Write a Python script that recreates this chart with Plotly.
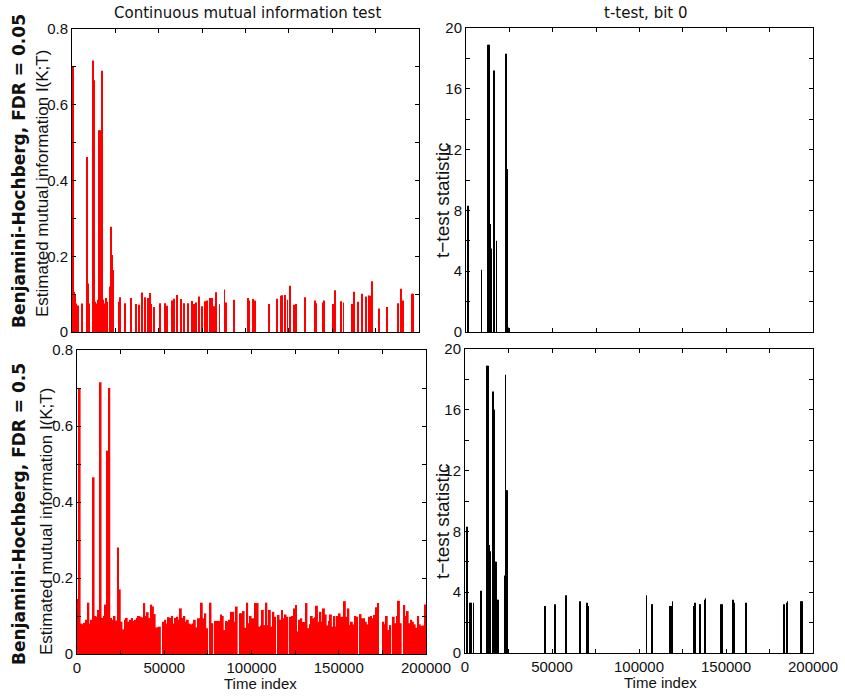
import plotly.graph_objects as go

# estimated MI, FDR = 0.5 (one value per 1000-sample block, 0..200000)
mi_all = [
    0.145, 0.70, 0.08, 0.078, 0.082, 0.09, 0.135, 0.08, 0.09, 0.465,
    0.10, 0.098, 0.116, 0.715, 0.095, 0.10, 0.13, 0.535, 0.70, 0.095,
    0.09, 0.10, 0.088, 0.28, 0.17, 0.085, 0.065, 0.09, 0.095, 0.085,
    0.09, 0.095, 0.087, 0.09, 0.095, 0.10, 0.098, 0.096, 0.134, 0.10,
    0.11, 0.095, 0.13, 0.125, 0.105, 0.07, 0.07, 0.072, 0.0, 0.085,
    0.09, 0.08, 0.097, 0.095, 0.10, 0.08, 0.095, 0.098, 0.09, 0.12,
    0.095, 0.10, 0.085, 0.09, 0.08, 0.078, 0.08, 0.09, 0.07, 0.094,
    0.094, 0.135, 0.094, 0.107, 0.068, 0.0, 0.135, 0.081, 0.0, 0.087,
    0.087, 0.087, 0.104, 0.10, 0.063, 0.087, 0.085, 0.09, 0.111, 0.111,
    0.085, 0.125, 0.0, 0.107, 0.107, 0.113, 0.069, 0.135, 0.081, 0.10,
    0.094, 0.094, 0.134, 0.134, 0.072, 0.075, 0.116, 0.076, 0.135, 0.076,
    0.116, 0.072, 0.111, 0.098, 0.0, 0.103, 0.09, 0.116, 0.094, 0.104,
    0.098, 0.0, 0.098, 0.10, 0.12, 0.129, 0.059, 0.09, 0.094, 0.084,
    0.084, 0.134, 0.068, 0.078, 0.10, 0.094, 0.097, 0.127, 0.085, 0.111,
    0.085, 0.12, 0.104, 0.075, 0.087, 0.104, 0.072, 0.10, 0.072, 0.10,
    0.107, 0.098, 0.098, 0.139, 0.098, 0.12, 0.076, 0.085, 0.078, 0.10,
    0.098, 0.0, 0.105, 0.094, 0.094, 0.085, 0.078, 0.098, 0.10, 0.094,
    0.103, 0.123, 0.134, 0.0, 0.0, 0.085, 0.078, 0.10, 0.063, 0.076,
    0.0, 0.098, 0.081, 0.10, 0.14, 0.081, 0.0, 0.129, 0.10, 0.113,
    0.081, 0.09, 0.085, 0.078, 0.069, 0.10, 0.078, 0.074, 0.075, 0.13,
]

# estimated MI, FDR = 0.05 (sparse)
mi_strict_t = [
    300, 600, 1000, 1500, 2200, 3600, 5600, 8400, 9000, 9800,
    12100, 12700, 13300, 14000, 14800, 15300, 15700, 16100, 17100, 17900,
    18600, 19600, 20300, 22100, 22600, 23000, 23400, 27200, 27800, 30700,
    34200, 36800, 38400, 40300, 42200, 43600, 44700, 45300, 47000, 50900,
    53700, 54700, 57800, 58900, 60500, 62800, 64500, 66800, 69100, 70100,
    71600, 73300, 74900, 76600, 77700, 79300, 80600, 82000, 82900, 85000,
    87900, 88700, 93100, 101200, 101900, 104200, 105600, 113800, 118400, 120400,
    121300, 122900, 124200, 125400, 127700, 129200, 134400, 139800, 140500, 144900,
    145500, 150700, 151700, 154900, 156500, 161600, 162600, 165100, 167200, 169500,
    170900, 171800, 172800, 177200, 181800, 188100, 189700, 190600, 195800, 196800,
]
mi_strict_v = [
    0.105, 0.70, 0.106, 0.10, 0.075, 0.07, 0.075, 0.462, 0.128, 0.075,
    0.717, 0.665, 0.08, 0.075, 0.085, 0.145, 0.533, 0.533, 0.69, 0.085,
    0.075, 0.09, 0.08, 0.12, 0.278, 0.203, 0.164, 0.08, 0.092, 0.076,
    0.090, 0.074, 0.072, 0.104, 0.092, 0.090, 0.103, 0.074, 0.066, 0.076,
    0.076, 0.069, 0.083, 0.088, 0.098, 0.087, 0.076, 0.076, 0.082, 0.074,
    0.078, 0.094, 0.068, 0.081, 0.083, 0.090, 0.090, 0.068, 0.105, 0.073,
    0.112, 0.078, 0.085, 0.090, 0.083, 0.087, 0.083, 0.074, 0.088, 0.096,
    0.097, 0.098, 0.085, 0.122, 0.072, 0.074, 0.092, 0.083, 0.076, 0.078,
    0.083, 0.074, 0.110, 0.081, 0.078, 0.074, 0.106, 0.080, 0.101, 0.094,
    0.097, 0.096, 0.134, 0.062, 0.066, 0.076, 0.114, 0.083, 0.101, 0.101,
]

# t-test statistic, FDR = 0.05
tt_strict_t = [1000, 9000, 12700, 13100, 13800, 14200, 14600, 16100, 16500, 17600,
               22900, 23200, 23600, 24000, 24500]
tt_strict_v = [8.3, 4.1, 18.9, 18.9, 7.1, 6.7, 5.5, 17.2, 16.0, 6.0,
               5.1, 18.3, 10.7, 10.7, 0.3]

# t-test statistic, FDR = 0.5
tt_all_t = [1000, 2900, 3300, 4900, 9200, 12700, 13100, 13800, 14200, 14600,
            16100, 16500, 16800, 17600, 17900, 18500, 18900, 22900, 23200, 23600,
            24000, 24500, 45800, 46200, 51800, 58200, 66000, 70100, 70600, 104300,
            107400, 107800, 117800, 118200, 119300, 131300, 132000, 134700, 135100, 137800,
            138200, 147300, 147700, 153700, 154100, 154500, 161600, 183300, 185000, 185400,
            192800, 193200, 193600]
tt_all_v = [8.3, 3.3, 3.3, 3.3, 4.1, 18.9, 18.9, 7.1, 6.7, 5.5,
            17.2, 16.0, 16.0, 6.0, 6.0, 3.5, 3.5, 5.1, 18.3, 10.7,
            10.7, 0.3, 3.1, 3.1, 3.2, 3.8, 3.4, 3.3, 3.1, 3.8,
            3.2, 3.2, 3.1, 3.1, 3.4, 3.1, 3.3, 3.2, 3.2, 3.5,
            3.6, 3.2, 3.2, 3.4, 3.5, 3.3, 3.3, 3.2, 3.3, 3.4,
            3.3, 3.4, 3.4]

x_tick_vals = [0, 25000, 50000, 75000, 100000, 125000, 150000, 175000, 200000]
x_tick_text = ["0", "", "50000", "", "100000", "", "150000", "", "200000"]
mi_tick_vals = [0, 0.1, 0.2, 0.3, 0.4, 0.5, 0.6, 0.7, 0.8]
mi_tick_text = ["0", "", "0.2", "", "0.4", "", "0.6", "", "0.8"]
tt_tick_vals = [0, 2, 4, 6, 8, 10, 12, 14, 16, 18, 20]
tt_tick_text = ["0", "", "4", "", "8", "", "12", "", "16", "", "20"]

W, H = 845, 698

def px_x(a, b):
    return [a / W, b / W]

def px_y(top, bottom):
    return [1 - bottom / H, 1 - top / H]

fig = go.Figure()
fig.add_trace(go.Bar(x=mi_strict_t, y=mi_strict_v, width=550, marker=dict(color="#ff0000", line_width=0),
                     xaxis="x", yaxis="y"))
fig.add_trace(go.Bar(x0=500, dx=1000, y=mi_all, width=1100, marker=dict(color="#ff0000", line_width=0),
                     xaxis="x3", yaxis="y3"))
fig.add_trace(go.Bar(x=tt_strict_t, y=tt_strict_v, width=420, marker=dict(color="#000000", line_width=0),
                     xaxis="x2", yaxis="y2"))
fig.add_trace(go.Bar(x=tt_all_t, y=tt_all_v, width=420, marker=dict(color="#000000", line_width=0),
                     xaxis="x4", yaxis="y4"))

tick_font = dict(family="Liberation Sans, Arial, sans-serif", size=15, color="#111111")
base = dict(showline=True, linecolor="black", linewidth=1, mirror="allticks", ticks="inside",
            ticklen=4, tickcolor="black", showgrid=False, zeroline=False, tickfont=tick_font,
            automargin=False, fixedrange=True)

def xax(dom, labels):
    return dict(base, domain=dom, range=[0, 200000], tickmode="array", tickvals=x_tick_vals,
                ticktext=x_tick_text if labels else [""] * len(x_tick_vals))

def yax(dom, anchor, right):
    if right:
        return dict(base, domain=dom, anchor=anchor, range=[0, 20], tickmode="array",
                    tickvals=tt_tick_vals, ticktext=tt_tick_text)
    return dict(base, domain=dom, anchor=anchor, range=[0, 0.8], tickmode="array",
                tickvals=mi_tick_vals, ticktext=mi_tick_text)

fig.update_layout(
    width=W, height=H, margin=dict(l=0, r=0, t=0, b=0),
    paper_bgcolor="white", plot_bgcolor="white", showlegend=False,
    xaxis=dict(xax(px_x(72, 419), False), anchor="y"),
    yaxis=yax(px_y(29, 332), "x", False),
    xaxis2=dict(xax(px_x(466, 813), False), anchor="y2"),
    yaxis2=yax(px_y(28, 332), "x2", True),
    xaxis3=dict(xax(px_x(77, 426), True), anchor="y3"),
    yaxis3=yax(px_y(350, 654), "x3", False),
    xaxis4=dict(xax(px_x(465, 813), True), anchor="y4"),
    yaxis4=yax(px_y(349, 653), "x4", True),
)

def note(text, x, y, size, family, angle=0):
    fig.add_annotation(text=text, x=x / W, y=1 - y / H, xref="paper", yref="paper",
                       xanchor="center", yanchor="middle", showarrow=False, textangle=angle,
                       font=dict(family=family, size=size, color="#111111"))

sans = "Liberation Sans, Arial, sans-serif"
note("Continuous mutual information test", 247, 13, 15, "DejaVu Sans")
note("t-test, bit 0", 646, 13, 15, "DejaVu Sans")
note("<b>Benjamini-Hochberg, FDR = 0.05</b>", 19, 171, 17, "DejaVu Sans", -90)
note("<b>Benjamini-Hochberg, FDR = 0.5</b>", 19, 514, 17, "DejaVu Sans", -90)
note("Estimated mutual information I(K;T)", 43, 184, 17, sans, -90)
note("Estimated mutual information I(K;T)", 46, 522, 17, sans, -90)
note("t\u2212test statistic", 442, 200, 19, sans, -90)
note("t\u2212test statistic", 442, 521, 19, sans, -90)
note("Time index", 260, 683, 15, sans)
note("Time index", 660, 682, 15, sans)

# drop the default page margin so the figure sits at the window's corner
fig.write_html("out.html", config={"displayModeBar": False},
               post_script="document.body.style.margin = '0px';")
